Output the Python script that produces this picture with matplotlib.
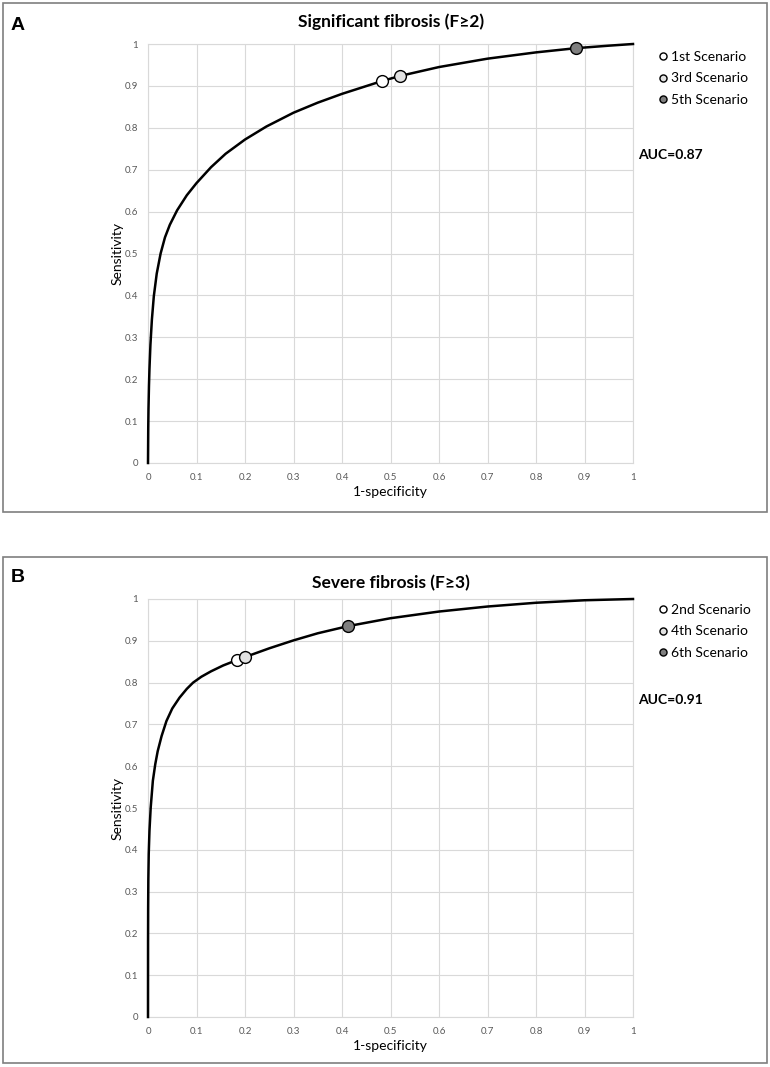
import matplotlib
matplotlib.use("Agg")
import matplotlib.pyplot as plt
from matplotlib.patches import Rectangle

plt.rcParams['font.family'] = ['Lato', 'DejaVu Sans']

# ROC curve of panel A
fpr_a = [0, 0.0005, 0.001, 0.002, 0.003, 0.005, 0.008, 0.012, 0.018, 0.026,
         0.035, 0.045, 0.06, 0.08, 0.1, 0.13, 0.16, 0.2, 0.244, 0.3,
         0.35, 0.4, 0.4835, 0.5206, 0.6, 0.7, 0.8, 0.882, 0.95, 1.0]
tpr_a = [0, 0.084, 0.129, 0.184, 0.224, 0.282, 0.342, 0.398, 0.452, 0.500,
         0.5385, 0.5685, 0.603, 0.639, 0.668, 0.706, 0.738, 0.772, 0.803, 0.836,
         0.860, 0.881, 0.912, 0.924, 0.945, 0.965, 0.980, 0.990, 0.996, 1.0]
# ROC curve of panel B
fpr_b = [0, 0.0001, 0.0003, 0.0007, 0.0015, 0.003, 0.0055, 0.01, 0.015, 0.02,
         0.028, 0.038, 0.05, 0.065, 0.08, 0.093, 0.11, 0.13, 0.155, 0.1835,
         0.201, 0.25, 0.3, 0.35, 0.412, 0.5, 0.6, 0.7, 0.8, 0.9, 1.0]
tpr_b = [0, 0.18, 0.26, 0.33, 0.39, 0.445, 0.50, 0.565, 0.605, 0.636,
         0.672, 0.708, 0.738, 0.764, 0.785, 0.800, 0.814, 0.827, 0.841, 0.854,
         0.8615, 0.882, 0.901, 0.918, 0.935, 0.954, 0.970, 0.982, 0.991, 0.997, 1.0]

labels_a = ['1st Scenario', '3rd Scenario', '5th Scenario']
pts_x_a = [0.4835, 0.5206, 0.882]
pts_y_a = [0.912, 0.924, 0.990]
labels_b = ['2nd Scenario', '4th Scenario', '6th Scenario']
pts_x_b = [0.1835, 0.201, 0.412]
pts_y_b = [0.854, 0.8615, 0.935]
fills = ['#ffffff', '#e2e2e2', '#7f7f7f']

titles = ['Significant fibrosis (F\u22652)', 'Severe fibrosis (F\u22653)']
letters = ['A', 'B']
aucs = ['AUC=0.87', 'AUC=0.91']
ticks = [i / 10 for i in range(11)]
tick_labels = ['0'] + ['0.%d' % i for i in range(1, 10)] + ['1']

W, H = 770, 1067
fig = plt.figure(figsize=(W / 100, H / 100), dpi=100)


def fx(px):
    return px / W


def fy(py):
    return 1 - py / H


# pixel positions: box top/bottom, axes top/bottom, title, letter, legend top, AUC
panels = [
    dict(box=(2.5, 512), ax=(44, 463), title_y=22, letter_y=25, leg_y=44, auc_y=155,
         fpr=fpr_a, tpr=tpr_a, px=pts_x_a, py=pts_y_a, lab=labels_a),
    dict(box=(557, 1063), ax=(599, 1017), title_y=583, letter_y=577, leg_y=597, auc_y=700,
         fpr=fpr_b, tpr=tpr_b, px=pts_x_b, py=pts_y_b, lab=labels_b),
]

for k, p in enumerate(panels):
    bt, bb = p['box']
    fig.patches.append(Rectangle((fx(2.5), fy(bb)), fx(764.5), (bb - bt) / H,
                                 transform=fig.transFigure, fill=False,
                                 edgecolor='#7f7f7f', linewidth=1.2))
    at, ab = p['ax']
    ax = fig.add_axes([fx(148), fy(ab), fx(485), (ab - at) / H])
    ax.set_xlim(0, 1)
    ax.set_ylim(0, 1)
    ax.set_xticks(ticks)
    ax.set_yticks(ticks)
    ax.set_xticklabels(tick_labels)
    ax.set_yticklabels(tick_labels)
    ax.tick_params(length=0, labelsize=7, colors='#595959', pad=7)
    ax.grid(True, color='#d9d9d9', linewidth=0.8)
    for s in ax.spines.values():
        s.set_color('#d9d9d9')
        s.set_linewidth(0.8)
    ax.set_axisbelow(True)
    ax.plot(p['fpr'], p['tpr'], color='black', linewidth=1.8, solid_joinstyle='round',
            zorder=3, clip_on=False)
    for x, y, lab, c in zip(p['px'], p['py'], p['lab'], fills):
        ax.plot([x], [y], 'o', markersize=8.5, markerfacecolor=c,
                markeredgecolor='black', markeredgewidth=1.0, label=lab, zorder=4,
                clip_on=False)
    ax.set_xlabel('1-specificity', fontsize=10, labelpad=3)
    ax.set_ylabel('Sensitivity', fontsize=10, labelpad=1)
    ax.legend(loc='upper left', bbox_to_anchor=(fx(652), fy(p['leg_y'])),
              bbox_transform=fig.transFigure, frameon=False, fontsize=10,
              markerscale=0.6, handlelength=0.6, handletextpad=0.3,
              labelspacing=0.68, borderpad=0)
    fig.text(fx(670), fy(p['auc_y']), aucs[k], fontsize=10, fontweight='bold',
             ha='center', va='center')
    fig.text(fx(391), fy(p['title_y']), titles[k], fontsize=12.5, fontweight='bold',
             ha='center', va='center')
    fig.text(fx(11), fy(p['letter_y']), letters[k], fontsize=14, fontweight='bold',
             ha='left', va='center', family=['Liberation Sans', 'DejaVu Sans'])

fig.savefig('out.png', dpi=100)
